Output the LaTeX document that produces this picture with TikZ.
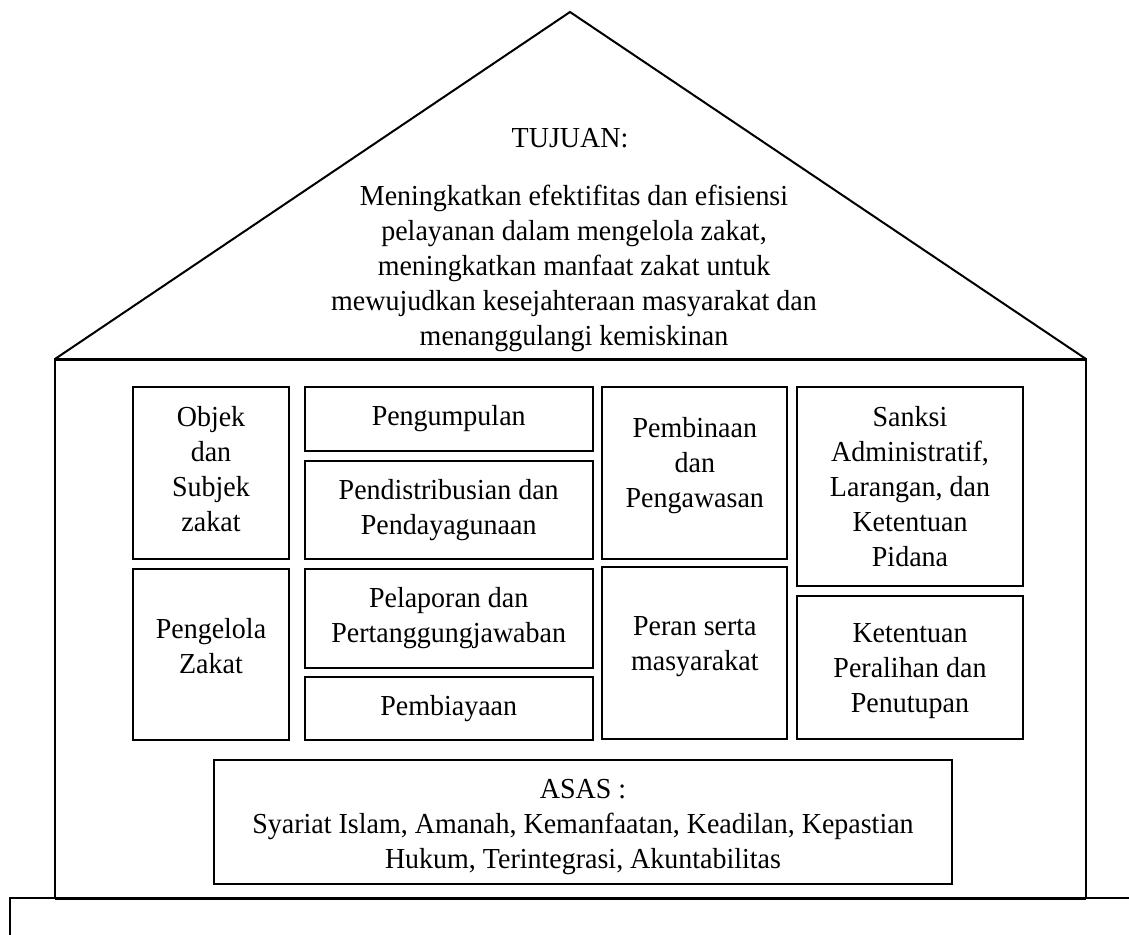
\documentclass[tikz,border=0pt]{standalone}
\usepackage{fontspec}
\setmainfont{Liberation Serif}[FakeStretch=0.965]
\usepackage{amsmath}
\usepackage{xcolor}
% extra depth under the last line (text moves up), extra height over the first line (text moves down)
\newcommand{\naik}[1]{\rule[-#1]{0pt}{#1}}
\newcommand{\turun}[1]{\rule{0pt}{#1}}

\begin{document}
\begin{tikzpicture}[x=0.75pt,y=0.75pt,yscale=-1,xscale=1,
    kotak/.style={draw, line width=1.5pt, align=center, inner sep=0.75pt},
    teks/.style={align=center, inner sep=0.75pt},
    every node/.style={font=\fontsize{21.75}{26.25}\selectfont}]
    \useasboundingbox (0,0) rectangle (1129,935); %set diagram size 1129 x 935
    
    %Shape: Roof
    \draw [line width=1.5pt]  (55,359) -- (570,12) -- (1086,359) ;
    %Straight Lines: roof base
    \draw [line width=2.25pt]  (54,359) -- (1087,359) ;
    %Shape: Walls
    \draw [line width=1.5pt]  (55,359) -- (55,898) ;
    \draw [line width=1.5pt]  (1086,359) -- (1086,898) ;
    \draw [line width=2.25pt]  (55,898) -- (1086,898) ;
    %Shape: Base
    \draw [line width=1.5pt]  (10,935) -- (10,898) -- (1129,898) ;
    
    % Text Node
    \node (tujuan) at (570,138) [teks] {TUJUAN:};
    % Text Node
    \node (isitujuan) at (574,268) [teks] {Meningkatkan efektifitas dan efisiensi\\ pelayanan dalam mengelola zakat,\\ meningkatkan manfaat zakat untuk\\ mewujudkan kesejahteraan masyarakat dan\\ menanggulangi kemiskinan};
    
    % Box Nodes
    \node (objek) at (211,473) [kotak, minimum width=117pt, minimum height=129pt] {Objek\\ dan\\ Subjek\\ zakat\naik{6.8pt}};
    \node (pengelola) at (211,654.5) [kotak, minimum width=117pt, minimum height=128.25pt] {Pengelola\\ Zakat\naik{13.5pt}};
    \node (pengumpulan) at (448.7,419) [kotak, minimum width=216pt, minimum height=48pt] {Pengumpulan};
    \node (distribusi) at (448.7,510) [kotak, minimum width=216pt, minimum height=73.5pt] {Pendistribusian dan\\ Pendayagunaan};
    \node (pelaporan) at (448.7,618.5) [kotak, minimum width=216pt, minimum height=74.25pt] {Pelaporan dan\\ Pertanggungjawaban};
    \node (pembiayaan) at (448.7,708.5) [kotak, minimum width=216pt, minimum height=47.25pt] {Pembiayaan};
    \node (pembinaan) at (694.8,473) [kotak, minimum width=138.75pt, minimum height=129pt] {Pembinaan\\ dan\\ Pengawasan\naik{15.2pt}};
    \node (peran) at (694.8,653) [kotak, minimum width=138.75pt, minimum height=129pt] {Peran serta\\ masyarakat\naik{13.7pt}};
    \node (sanksi) at (910,486.5) [kotak, minimum width=169.5pt, minimum height=149.25pt] {Sanksi\\ Administratif,\\ Larangan, dan\\ Ketentuan\\ Pidana};
    \node (ketentuan) at (910,667.7) [kotak, minimum width=169.5pt, minimum height=107.25pt] {\turun{18.9pt}Ketentuan\\ Peralihan dan\\ Penutupan};
    \node (asas) at (583,822) [kotak, minimum width=553.5pt, minimum height=93pt] {\turun{21.9pt}ASAS :\\ Syariat Islam, Amanah, Kemanfaatan, Keadilan, Kepastian\\ Hukum, Terintegrasi, Akuntabilitas};
    
\end{tikzpicture}
\end{document}
